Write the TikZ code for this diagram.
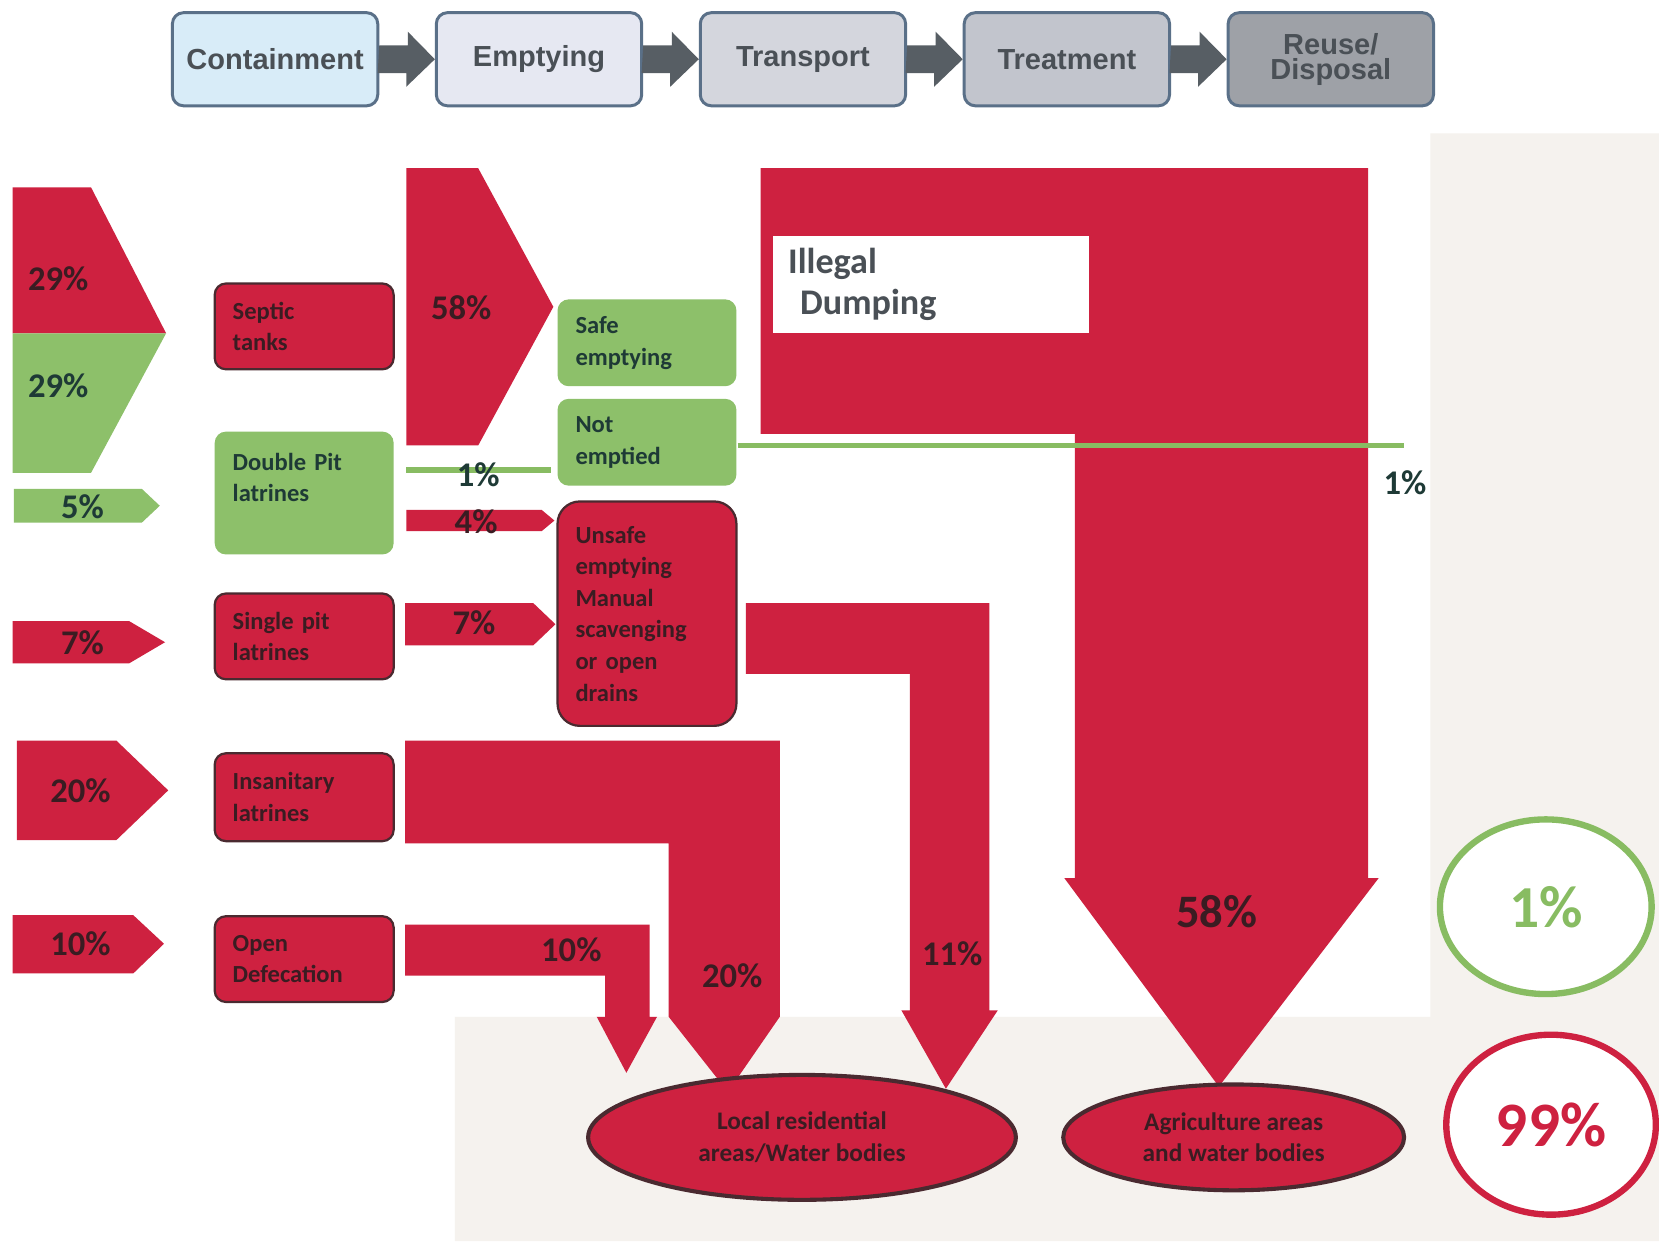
\documentclass[tikz,border=0pt]{standalone}
\usepackage{fontspec}
\setmainfont{Carlito}
\newfontfamily\arialfont{Liberation Sans}
\usetikzlibrary{positioning,shapes.geometric}
\definecolor{fsred}{HTML}{CE2140}
\definecolor{fsgreen}{HTML}{8DC06A}
\definecolor{fsline}{HTML}{88BC62}
\definecolor{paper}{HTML}{F5F2EE}
\definecolor{boxline}{HTML}{4A2A30}
\definecolor{redtext}{HTML}{3A1C22}
\definecolor{greentext}{HTML}{1E3A36}
\definecolor{stageline}{HTML}{5A7088}
\definecolor{stagetext}{HTML}{4A5056}
\definecolor{stagearrow}{HTML}{575E64}
\definecolor{stageA}{HTML}{D8ECF8}
\definecolor{stageB}{HTML}{E6E8F2}
\definecolor{stageC}{HTML}{D4D6DD}
\definecolor{stageD}{HTML}{C2C5CD}
\definecolor{stageE}{HTML}{9EA1A7}
\begin{document}
\begin{tikzpicture}[x=0.01cm,y=-0.01cm,
    stage/.style={draw=stageline,line width=0.8pt,rounded corners=3pt,minimum width=1.94cm,minimum height=0.88cm,inner sep=0pt,align=center,text=stagetext,font=\arialfont\bfseries\fontsize{7.8}{6.6}\selectfont},
    redbox/.style={fill=fsred,draw=boxline,line width=0.6pt,rounded corners=3pt,text width=1.35cm,inner xsep=0.17cm,align=left,text=redtext,font=\bfseries\fontsize{6.6}{8.5}\selectfont},
    greenbox/.style={redbox,fill=fsgreen,draw=none,text=greentext},
    pct/.style={text=redtext,font=\bfseries\fontsize{9.3}{10}\selectfont},
    flow/.style={fill=fsred},
    okflow/.style={fill=fsgreen}]
  \useasboundingbox (0,0) rectangle (1568,1173);
  \fill[white] (0,0) rectangle (1568,1173);
  \fill[paper] (1352,126) -- (1568,126) -- (1568,1173) -- (430,1173) -- (430,961) -- (1352,961) -- cycle;

  % service chain
  \node[stage,fill=stageA] (cont) at (260,56) {Containment};
  \node[stage,fill=stageB,right=0.525cm of cont] (empt) {Emptying};
  \node[stage,fill=stageC,right=0.525cm of empt] (tran) {Transport};
  \node[stage,fill=stageD,right=0.525cm of tran] (trea) {Treatment};
  \node[stage,fill=stageE,right=0.525cm of trea] (reus) {Reuse/\\Disposal};
  \foreach \a/\b in {cont/empt,empt/tran,tran/trea,trea/reus}
    \fill[stagearrow] (\a.east) ++(0,-13) -- ++(27,0) -- ++(0,-13) -- (\b.west) -- ++(-27,26) -- ++(0,-13) -- ++(-27,0) -- cycle;

  % inflows to containment
  \fill[flow] (12,177) -- (86,177) -- (157,315) -- (12,315) -- cycle;
  \fill[okflow] (12,315) -- (157,315) -- (86,447) -- (12,447) -- cycle;
  \fill[okflow] (13,462) -- (134,462) -- (151,478) -- (134,494) -- (13,494) -- cycle;
  \fill[flow] (12,587) -- (122,587) -- (156,607) -- (122,627) -- (12,627) -- cycle;
  \fill[flow] (16,700) -- (110,700) -- (159,747) -- (110,794) -- (16,794) -- cycle;
  \fill[flow] (12,865) -- (126,865) -- (155,892) -- (126,920) -- (12,920) -- cycle;
  \node[pct] (in1) at (55,263) {29\%};
  \node[pct,text=greentext] (in2) at (55,365) {29\%};
  \node[pct,text=greentext] (in3) at (78,479) {5\%};
  \node[pct] (in4) at (78,607) {7\%};
  \node[pct] (in5) at (76,747) {20\%};
  \node[pct] (in6) at (76,892) {10\%};

  % containment systems
  \node[redbox,minimum height=0.81cm] (st) at (287.5,308.5) {Septic\\tanks};
  \node[greenbox,minimum height=1.16cm] (dp) at (287.5,466) {Double Pit\\latrines\\\mbox{}};
  \node[redbox,minimum height=0.81cm] (sp) at (287.5,601.5) {Single pit\\latrines};
  \node[redbox,minimum height=0.83cm] (il) at (287.5,753.5) {Insanitary\\latrines};
  \node[redbox,minimum height=0.81cm] (od) at (287.5,906.5) {Open\\Defecation};

  % illegal dumping
  \fill[flow] (719,159) -- (1293,159) -- (1293,830) -- (1303,830) -- (1152,1027) -- (1006,830) -- (1016,830) -- (1016,410) -- (719,410) -- cycle;
  \node[fill=white,minimum width=2.98cm,minimum height=0.9cm,text width=2.7cm,inner xsep=0.14cm,align=left,text=stagetext,font=\bfseries\fontsize{9.7}{11}\selectfont] (dump) at (880,269) {Illegal\\\ Dumping};
  \node[pct,font=\bfseries\fontsize{12.5}{13}\selectfont] (p58b) at (1150,862) {58\%};

  % emptying flows
  \fill[flow] (384,159) -- (452,159) -- (523,290) -- (452,421) -- (384,421) -- cycle;
  \draw[fsline,line width=0.06cm] (384,444) -- (521,444);
  \fill[flow] (384,482) -- (512,482) -- (524,492) -- (512,502) -- (384,502) -- cycle;
  \fill[flow] (383,570) -- (504,570) -- (525,590) -- (504,610) -- (383,610) -- cycle;
  \node[pct] (p58a) at (436,291) {58\%};
  \node[pct,text=greentext] (p1a) at (452,449) {1\%};
  \node[pct] (p4) at (450,493) {4\%};
  \node[pct] (p7) at (448,589) {7\%};

  % emptying outcomes
  \node[greenbox,minimum height=0.82cm] (se) at (611.5,324) {Safe\\emptying};
  \node[greenbox,minimum height=0.82cm] (ne) at (611.5,418) {Not\\emptied};
  \node[redbox,minimum height=2.12cm,rounded corners=6pt] (ue) at (611.5,580) {Unsafe\\emptying\\Manual\\scavenging\\or open\\drains};
  \coordinate (keep) at (1327,421);
  \draw[fsline,line width=0.05cm] (ne.east |- keep) -- (keep);
  \node[pct,text=greentext] (p1b) at (1328,456) {1\%};

  % flows to the environment
  \fill[flow] (705,570) -- (935,570) -- (935,955) -- (943,955) -- (894,1029) -- (852,955) -- (860,955) -- (860,637) -- (705,637) -- cycle;
  \fill[flow] (383,700) -- (737,700) -- (737,961) -- (688,1032) -- (632,961) -- (632,797) -- (383,797) -- cycle;
  \fill[flow] (383,874) -- (614,874) -- (614,961) -- (621,961) -- (592,1014) -- (564,961) -- (572,961) -- (572,922) -- (383,922) -- cycle;
  \node[pct] (p11) at (900,901) {11\%};
  \node[pct] (p20) at (692,922) {20\%};
  \node[pct] (p10) at (540,898) {10\%};

  \node[ellipse,fill=fsred,draw=boxline,line width=1.1pt,minimum width=4.04cm,minimum height=1.18cm,inner sep=0pt,align=center,text=redtext,font=\bfseries\fontsize{6.8}{8.5}\selectfont] (local) at (758,1075) {Local residential\\areas/Water bodies};
  \node[ellipse,fill=fsred,draw=boxline,line width=1.1pt,minimum width=3.22cm,minimum height=1.0cm,inner sep=0pt,align=center,text=redtext,font=\bfseries\fontsize{6.8}{8.5}\selectfont] (agri) at (1166,1075) {Agriculture areas\\and water bodies};

  % totals
  \node[ellipse,fill=white,draw=fsline,line width=0.06cm,minimum width=2.0cm,minimum height=1.65cm,text=fsline,font=\bfseries\fontsize{16}{16}\selectfont] (safe) at (1461,857) {1\%};
  \node[ellipse,fill=white,draw=fsred,line width=0.06cm,minimum width=1.98cm,minimum height=1.7cm,text=fsred,font=\bfseries\fontsize{17}{17}\selectfont] (unsafe) at (1466,1063) {99\%};
\end{tikzpicture}
\end{document}
